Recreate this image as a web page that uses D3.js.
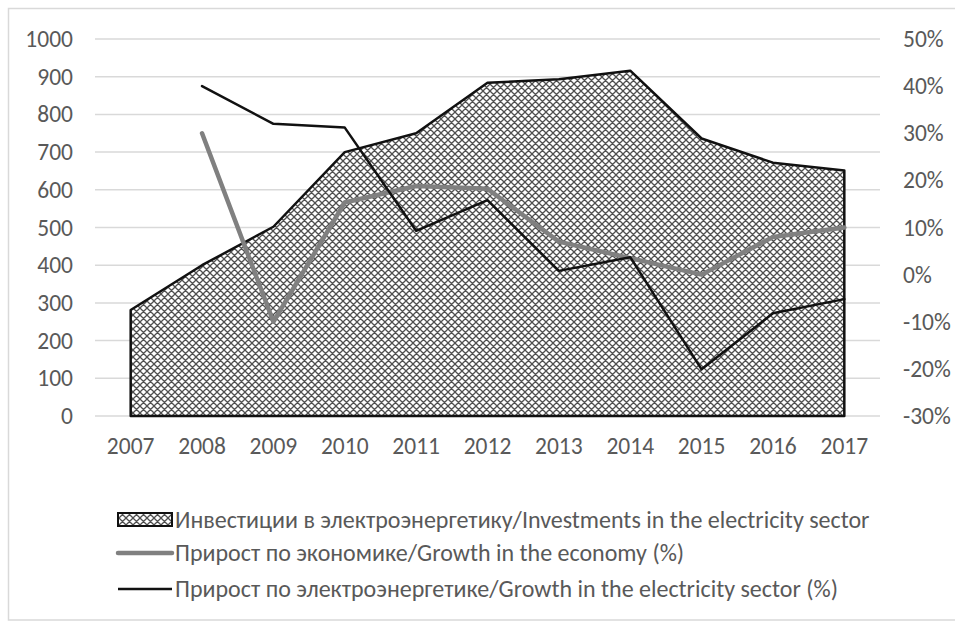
<!DOCTYPE html>
<html>
<head>
<meta charset="utf-8">
<script src="https://cdn.jsdelivr.net/npm/d3@7"></script>
<style>
  html, body { margin: 0; padding: 0; background: #fff; }
  svg { display: block; }
  text { font-family: Carlito, Calibri, "Liberation Sans", Arial, sans-serif; fill: #595959; }
</style>
</head>
<body>
<svg id="chart" width="955" height="621"></svg>
<script>
// Years on the category axis
const years = ["2007", "2008", "2009", "2010", "2011", "2012", "2013", "2014", "2015", "2016", "2017"];
// Investments in the electricity sector (left axis)
const investments = [281, 400, 502, 700, 750, 884, 893, 916, 736, 672, 651];
// Growth in the economy, % (right axis); no value for 2007
const economyGrowth = [null, 30, -10, 15.3, 18.8, 18.2, 7, 3.5, 0, 8, 10];
// Growth in the electricity sector, % (right axis); no value for 2007
const electricityGrowth = [null, 40, 32, 31.2, 9.3, 15.8, 0.8, 3.7, -20.1, -8.2, -5.2];
// Axis ticks
const leftTicks = [0, 100, 200, 300, 400, 500, 600, 700, 800, 900, 1000];
const rightTicks = [-30, -20, -10, 0, 10, 20, 30, 40, 50];
// Legend labels
const legendLabels = [
  "Инвестиции в электроэнергетику/Investments in the electricity sector",
  "Прирост по экономике/Growth in the economy (%)",
  "Прирост по электроэнергетике/Growth in the electricity sector (%)"
];

const svg = d3.select("#chart");
const plot = { left: 95, right: 880, top: 39, bottom: 416 };
const axisFont = "23.5px";
const legendFont = "24px";

const x = d3.scaleBand().domain(years).range([plot.left, plot.right]).paddingInner(0).paddingOuter(0);
const cx = d => x(d) + x.bandwidth() / 2;
const yL = d3.scaleLinear().domain([0, 1000]).range([plot.bottom, plot.top]);
const yR = d3.scaleLinear().domain([-30, 50]).range([plot.bottom, plot.top]);

// Outer frame
svg.append("rect")
  .attr("x", 8.5).attr("y", 8.5).attr("width", 960).attr("height", 611.5)
  .attr("fill", "none").attr("stroke", "#d9d9d9").attr("stroke-width", 1.5);

// Cross-hatch pattern for the area
const P = 7;
const defs = svg.append("defs");
const pat = defs.append("pattern")
  .attr("id", "hatch").attr("patternUnits", "userSpaceOnUse")
  .attr("width", P).attr("height", P);
pat.append("rect").attr("width", P).attr("height", P).attr("fill", "#fff");
pat.append("path")
  .attr("d", `M0,0L${P},${P}M${P},0L0,${P}M-1,${P - 1}L1,${P + 1}M${P - 1},-1L${P + 1},1M-1,1L1,-1M${P - 1},${P + 1}L${P + 1},${P - 1}`)
  .attr("stroke", "#505050").attr("stroke-width", 1.3).attr("fill", "none");

// Horizontal gridlines
svg.append("g").selectAll("line").data(leftTicks).join("line")
  .attr("x1", plot.left).attr("x2", plot.right)
  .attr("y1", d => yL(d)).attr("y2", d => yL(d))
  .attr("stroke", "#d9d9d9").attr("stroke-width", 1.5);

// Left axis
const axL = svg.append("g").attr("transform", `translate(${plot.left},0)`)
  .call(d3.axisLeft(yL).tickValues(leftTicks).tickSize(0).tickPadding(22).tickFormat(d3.format("d")));
axL.select(".domain").remove();
axL.selectAll("text").style("font-size", axisFont).attr("fill", "#595959");

// Right axis
const axR = svg.append("g").attr("transform", `translate(${plot.right},0)`)
  .call(d3.axisRight(yR).tickValues(rightTicks).tickSize(0).tickPadding(23).tickFormat(d => d + "%"));
axR.select(".domain").remove();
axR.selectAll("text").style("font-size", axisFont).attr("fill", "#595959");

// Bottom axis
const axB = svg.append("g").attr("transform", `translate(0,${plot.bottom})`)
  .call(d3.axisBottom(x).tickSize(0).tickPadding(21));
axB.select(".domain").remove();
axB.selectAll("text").style("font-size", axisFont).attr("fill", "#595959");

// Investments area
const area = d3.area().x(d => cx(d.year)).y0(yL(0)).y1(d => yL(d.v));
const areaData = years.map((year, i) => ({ year, v: investments[i] }));
svg.append("path").datum(areaData)
  .attr("d", area)
  .attr("fill", "url(#hatch)").attr("stroke", "#111").attr("stroke-width", 2.5).attr("stroke-linejoin", "round");

// Growth lines
const line = d3.line().defined(d => d.v !== null).x(d => cx(d.year)).y(d => yR(d.v));
svg.append("path").datum(years.map((year, i) => ({ year, v: economyGrowth[i] })))
  .attr("d", line).attr("fill", "none").attr("stroke", "#808080").attr("stroke-width", 4.5)
  .attr("stroke-linejoin", "round").attr("stroke-linecap", "round");
svg.append("path").datum(years.map((year, i) => ({ year, v: electricityGrowth[i] })))
  .attr("d", line).attr("fill", "none").attr("stroke", "#111").attr("stroke-width", 2.5)
  .attr("stroke-linejoin", "round").attr("stroke-linecap", "round");

// Legend
const legend = svg.append("g");
const rows = [520, 553, 589];
const swX0 = 118, swX1 = 172;
legend.append("rect").attr("x", swX0).attr("y", rows[0] - 7).attr("width", swX1 - swX0).attr("height", 13)
  .attr("fill", "url(#hatch)").attr("stroke", "#111").attr("stroke-width", 2);
legend.append("line").attr("x1", swX0).attr("x2", swX1).attr("y1", rows[1]).attr("y2", rows[1])
  .attr("stroke", "#808080").attr("stroke-width", 4.5).attr("stroke-linecap", "round");
legend.append("line").attr("x1", swX0).attr("x2", swX1).attr("y1", rows[2]).attr("y2", rows[2])
  .attr("stroke", "#111").attr("stroke-width", 2.5);
legend.selectAll("text").data(legendLabels).join("text")
  .attr("x", 175).attr("y", (d, i) => rows[i]).attr("dy", "0.35em")
  .style("font-size", legendFont).text(d => d);
</script>
</body>
</html>
